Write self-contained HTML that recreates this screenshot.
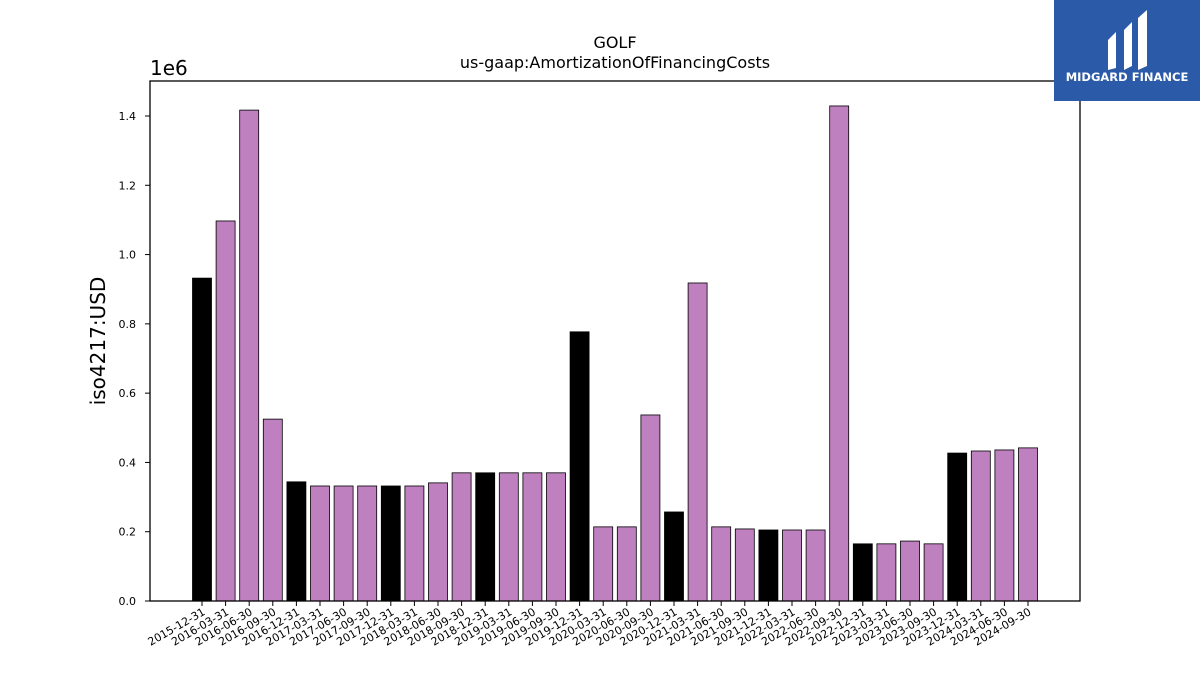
<!DOCTYPE html>
<html><head><meta charset="utf-8"><style>
body{margin:0;background:#fff;font-family:"Liberation Sans","DejaVu Sans",sans-serif;}
svg text{font-family:"DejaVu Sans","Liberation Sans",sans-serif;}
</style></head><body>
<svg id="chart" width="1200" height="675" xmlns="http://www.w3.org/2000/svg">
<rect width="1200" height="675" fill="#fff"/>
<text x="615" y="48" text-anchor="middle" font-size="16">GOLF</text>
<text x="615" y="68" text-anchor="middle" font-size="16">us-gaap:AmortizationOfFinancingCosts</text>
<text x="150" y="75" font-size="20">1e6</text>
<text transform="translate(105,341) rotate(-90)" text-anchor="middle" font-size="20">iso4217:USD</text>
<g id="bars"></g>
<g id="yticks"></g>
<g id="xticks"></g>
<rect x="150" y="81" width="930" height="520" fill="none" stroke="#000" stroke-width="1.3"/>
<g>
<rect x="1054" y="0" width="146" height="101" fill="#2b5aa8"/>
<path d="M1108 40 L1116 32 L1116 68 L1108 70 Z M1124 30 L1132 22 L1132 66 L1124 70 Z M1138 18 L1147 10 L1147 66 L1138 70 Z" fill="#fff"/>
<text x="1127" y="81" text-anchor="middle" font-size="11.5" font-weight="bold" fill="#fff">MIDGARD FINANCE</text>
</g>
</svg>
<script>
const categories=["2015-12-31","2016-03-31","2016-06-30","2016-09-30","2016-12-31","2017-03-31","2017-06-30","2017-09-30","2017-12-31","2018-03-31","2018-06-30","2018-09-30","2018-12-31","2019-03-31","2019-06-30","2019-09-30","2019-12-31","2020-03-31","2020-06-30","2020-09-30","2020-12-31","2021-03-31","2021-06-30","2021-09-30","2021-12-31","2022-03-31","2022-06-30","2022-09-30","2022-12-31","2023-03-31","2023-06-30","2023-09-30","2023-12-31","2024-03-31","2024-06-30","2024-09-30"];
const values=[932000,1097000,1417000,525000,344000,332000,332000,332000,332000,332000,341000,370000,370000,370000,370000,370000,777000,214000,214000,537000,257000,918000,214000,208000,205000,205000,205000,1429000,165000,165000,173000,165000,427000,433000,436000,442000];
const yTicks=[0,0.2,0.4,0.6,0.8,1.0,1.2,1.4];
const NS="http://www.w3.org/2000/svg";
const x0=202,step=23.6,bw=19;
function xPos(i){return x0+i*step;}
function yPos(v){return 601-v/1e6*346.43;}
const bars=document.getElementById('bars');
values.forEach((v,i)=>{
 const r=document.createElementNS(NS,'rect');
 r.setAttribute('x',xPos(i)-bw/2);r.setAttribute('y',yPos(v));
 r.setAttribute('width',bw);r.setAttribute('height',601-yPos(v));
 r.setAttribute('fill',categories[i].endsWith('12-31')?'#000':'#bf80bf');
 r.setAttribute('stroke','#000');r.setAttribute('stroke-width','0.8');
 
 
 bars.appendChild(r);
});
const yt=document.getElementById('yticks');
yTicks.forEach(t=>{
 const y=yPos(t*1e6);
 const l=document.createElementNS(NS,'line');
 l.setAttribute('x1',145);l.setAttribute('x2',150);l.setAttribute('y1',y);l.setAttribute('y2',y);l.setAttribute('stroke','#000');
 
 
 yt.appendChild(l);
 const tx=document.createElementNS(NS,'text');
 tx.setAttribute('x',136);tx.setAttribute('y',y+4);tx.setAttribute('text-anchor','end');tx.setAttribute('font-size','11');
 tx.textContent=t.toFixed(1);
 
 
 yt.appendChild(tx);
});
const xt=document.getElementById('xticks');
categories.forEach((c,i)=>{
 const x=xPos(i);
 const l=document.createElementNS(NS,'line');
 l.setAttribute('x1',x);l.setAttribute('x2',x);l.setAttribute('y1',601);l.setAttribute('y2',606);l.setAttribute('stroke','#000');
 
 
 xt.appendChild(l);
 const tx=document.createElementNS(NS,'text');
 tx.setAttribute('transform',`translate(${x+4},${614}) rotate(-30)`);
 tx.setAttribute('text-anchor','end');tx.setAttribute('font-size','11');
 tx.textContent=c;
 
 
 xt.appendChild(tx);
});
</script>
</body></html>
